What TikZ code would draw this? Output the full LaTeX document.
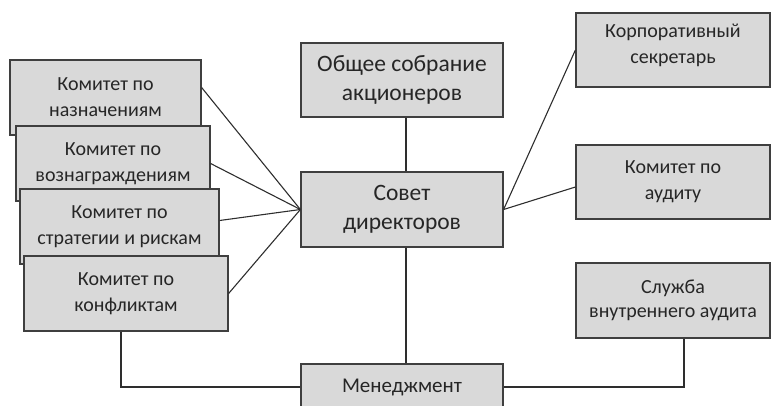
\documentclass[tikz,border=0pt]{standalone}
\usepackage{fontspec}
\setmainfont{Carlito}
\definecolor{boxfill}{HTML}{D9D9D9}
\definecolor{boxline}{HTML}{3F3F3F}
\definecolor{linec}{HTML}{2E2E2E}
\definecolor{textc}{HTML}{262626}
\begin{document}
\begin{tikzpicture}[x=1pt,y=-1pt,
  box/.style={draw=boxline, fill=boxfill, line width=1.2pt, inner sep=0pt,
    align=center, text=textc, font=\fontsize{20}{26}\selectfont,
    minimum height=75pt},
  bigbox/.style={box, font=\fontsize{23.5}{29}\selectfont},
  conn/.style={draw=linec, line width=1.1pt}]
\useasboundingbox (0,0) rectangle (771,405);
\clip (0,0) rectangle (771,405);
% left committees
\node[box, minimum width=191pt] (b1) at (105.5,97.5) {Комитет по\\назначениям};
\node[box, minimum width=194pt] (b2) at (113,163.5) {Комитет по\\вознаграждениям};
\node[box, minimum width=199pt] (b3) at (119.5,226.5) {Комитет по\\стратегии и рискам};
\node[box, minimum width=204pt] (b4) at (126,293.5) {Комитет по\\конфликтам};
% centre column
\node[bigbox, minimum width=202pt, minimum height=74pt] (gm) at (402,80) {Общее собрание\\акционеров};
\node[bigbox, minimum width=202pt] (bd) at (402,209.5) {Совет\\директоров};
\node[box, minimum width=202pt, minimum height=46pt, font=\fontsize{21}{26}\selectfont] (mg) at (402,387) {Менеджмент};
% right column
\node[box, minimum width=194pt, minimum height=74pt, text depth=12pt] (cs) at (673,50) {Корпоративный\\секретарь};
\node[box, minimum width=194pt, minimum height=74pt] (ac) at (673,182) {Комитет по\\аудиту};
\node[box, minimum width=194pt, font=\fontsize{20}{24}\selectfont] (ia) at (673,300.5) {Служба\\внутреннего аудита};
% connectors
\draw[conn] ([yshift=10pt]b1.east) -- (bd.west);
\draw[conn] (b2.east) -- (bd.west);
\draw[conn] ([yshift=6pt]b3.east) -- (bd.west);
\draw[conn] (b4.east) -- (bd.west);
\draw[conn] (bd.east) -- (cs.west);
\draw[conn] (bd.east) -- ([yshift=-5pt]ac.west);
\draw[conn] ([xshift=4pt]gm.south) -- ([xshift=4pt]bd.north);
\draw[conn] ([xshift=4pt]bd.south) -- ([xshift=4pt]mg.north);
\draw[conn] ([xshift=-5pt]b4.south) |- (mg.west);
\draw[conn] ([xshift=11pt]ia.south) |- (mg.east);
\end{tikzpicture}
\end{document}
